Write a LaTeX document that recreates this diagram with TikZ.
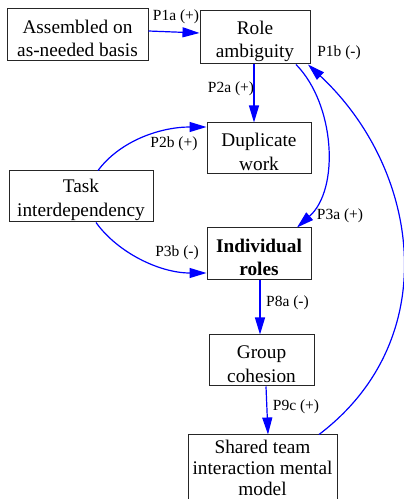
\documentclass[tikz,border=0pt]{standalone}
\usepackage{fontspec}
\setmainfont{Liberation Serif}
\usetikzlibrary{arrows.meta}
\begin{document}
\begin{tikzpicture}[x=1pt,y=1pt,
  box/.style={draw=black!85, line width=1pt, rectangle, inner sep=0pt},
  txt/.style={inner sep=0pt, align=center, font=\fontsize{19.3pt}{23.5pt}\selectfont},
  link/.style={draw=blue, line width=1.2pt, -{Triangle[length=17pt,width=10pt]}},
  tag/.style={font=\fontsize{15.5pt}{18pt}\selectfont, inner sep=0pt}]
\useasboundingbox (0,0) rectangle (404,499);

% concept boxes
\node[box, minimum width=141pt, minimum height=52pt] (asm) at (77.5,464) {};
\node[box, minimum width=110pt, minimum height=53pt] (role) at (255,461.5) {};
\node[box, minimum width=104pt, minimum height=51pt] (dup) at (259,350.5) {};
\node[box, minimum width=144pt, minimum height=51pt] (task) at (81,302.5) {};
\node[box, minimum width=104pt, minimum height=52pt] (ind) at (259,245) {};
\node[box, minimum width=105pt, minimum height=51pt] (grp) at (261.5,138.5) {};
\node[box, minimum width=149pt, minimum height=66pt] (stm) at (262.5,31) {};

% concept texts
\node[txt] (asm-t) at ([yshift=-3.5pt]asm) {Assembled on\\as-needed basis};
\node[txt] (role-t) at ([yshift=-4pt]role) {Role\\ambiguity};
\node[txt] (dup-t) at ([yshift=-3.5pt]dup) {Duplicate\\work};
\node[txt] (task-t) at ([yshift=-3.5pt]task) {Task\\interdependency};
\node[txt] (ind-t) at ([yshift=-3.5pt]ind) {\textbf{Individual}\\\textbf{roles}};
\node[txt] (grp-t) at ([yshift=-3.5pt]grp) {Group\\cohesion};
\node[txt, font=\fontsize{19.3pt}{21pt}\selectfont] (stm-t) at ([yshift=0.5pt]stm) {Shared team\\interaction mental\\model};

% propositions
\draw[link] ([yshift=4pt]asm.east) -- ([yshift=4.5pt]role.west);
\draw[link] ([xshift=-1pt]role.south) -- ([xshift=-5pt]dup.north);
\draw[link] ([xshift=17pt]task.north) .. controls (120,358) and (160,372) .. ([yshift=21.5pt]dup.west);
\draw[link] ([xshift=15pt]task.south) .. controls (118,246) and (160,226) .. ([yshift=-19pt]ind.west);
\draw[link] ([xshift=41pt]role.south) .. controls (335,395) and (340,310) .. ([xshift=38pt]ind.north);
\draw[link] ([xshift=1pt]ind.south) -- ([xshift=-1.5pt]grp.north);
\draw[link] ([xshift=4.5pt]grp.south) -- ([xshift=5.5pt]stm.north);
\draw[link] ([xshift=56.5pt]stm.north) .. controls (445,160) and (420,330) .. ([xshift=53pt]role.south);

% proposition labels
\node[tag] (l1a) at (176,482) {P1a (+)};
\node[tag] (l1b) at (339,446) {P1b (-)};
\node[tag] (l2a) at (231,410) {P2a (+)};
\node[tag] (l2b) at (174,355) {P2b (+)};
\node[tag] (l3a) at (340,283) {P3a (+)};
\node[tag] (l3b) at (177,246) {P3b (-)};
\node[tag] (l8a) at (287.5,196) {P8a (-)};
\node[tag] (l9c) at (296,92) {P9c (+)};
\end{tikzpicture}
\end{document}
